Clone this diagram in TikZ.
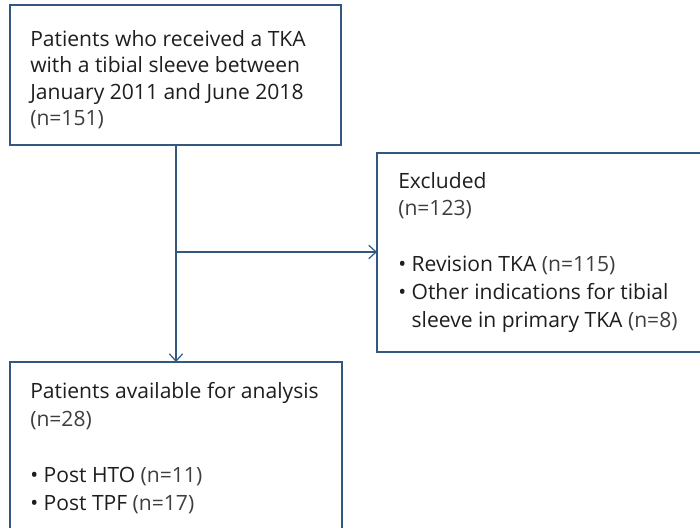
\documentclass[tikz,border=0pt]{standalone}
\usepackage{fontspec}
\setmainfont{Open Sans}
\usetikzlibrary{arrows.meta}
\definecolor{frame}{RGB}{50,88,128}
\definecolor{ink}{RGB}{30,30,30}
\definecolor{soft}{RGB}{62,62,62}
\newcommand{\cnt}[1]{\textcolor{soft}{#1}}
\newcommand{\bul}{\textbullet\ }
\newcommand{\bulgap}{\phantom{\textbullet\ }}
\tikzset{
  flowbox/.style={draw=frame, line width=1.1pt, fill=none},
  flowline/.style={draw=frame, line width=1.1pt},
  flowtip/.style={-{Straight Barb[length=5.5pt,width=10pt,line width=0.9pt]}},
  ln/.style={anchor=base west, inner sep=0pt, text=ink, font=\fontsize{15.8pt}{19pt}\selectfont}
}
\begin{document}
\begin{tikzpicture}[x=0.75pt,y=-0.75pt]
\useasboundingbox (0,0) rectangle (700,528);
\clip (0,0) rectangle (700,528);

% boxes
\draw[flowbox] (10,5) rectangle (341,145);
\coordinate (b1s) at (176,145);
\draw[flowbox] (377,153) rectangle (710,352);
\coordinate (b2w) at (377,252);
\draw[flowbox] (10,362) rectangle (342,540);
\coordinate (b3n) at (176,362);
\coordinate (split) at (176,252);

% text of the first box
\node[ln] (t11) at (30,47) {Patients who received a TKA};
\node[ln] (t12) at (30,73) {with a tibial sleeve between};
\node[ln] (t13) at (30,99) {January 2011 and June 2018};
\node[ln] (t14) at (30,125) {\cnt{(n=151)}};

% text of the exclusion box
\node[ln] (t21) at (398,188) {Excluded};
\node[ln] (t22) at (398,215.5) {\cnt{(n=123)}};
\node[ln] (t23) at (398,271) {\bul Revision TKA \cnt{(n=115)}};
\node[ln] (t24) at (398,299) {\bul Other indications for tibial};
\node[ln] (t25) at (398,327) {\bulgap sleeve in primary TKA \cnt{(n=8)}};

% text of the analysis box
\node[ln] (t31) at (30,398) {Patients available for analysis};
\node[ln] (t32) at (30,426) {\cnt{(n=28)}};
\node[ln] (t33) at (30,482) {\bul Post HTO \cnt{(n=11)}};
\node[ln] (t34) at (30,510) {\bul Post TPF \cnt{(n=17)}};

% connectors
\draw[flowline, flowtip] (b1s) -- (b3n);
\draw[flowline, flowtip] (split) -- (b2w);
\end{tikzpicture}
\end{document}
